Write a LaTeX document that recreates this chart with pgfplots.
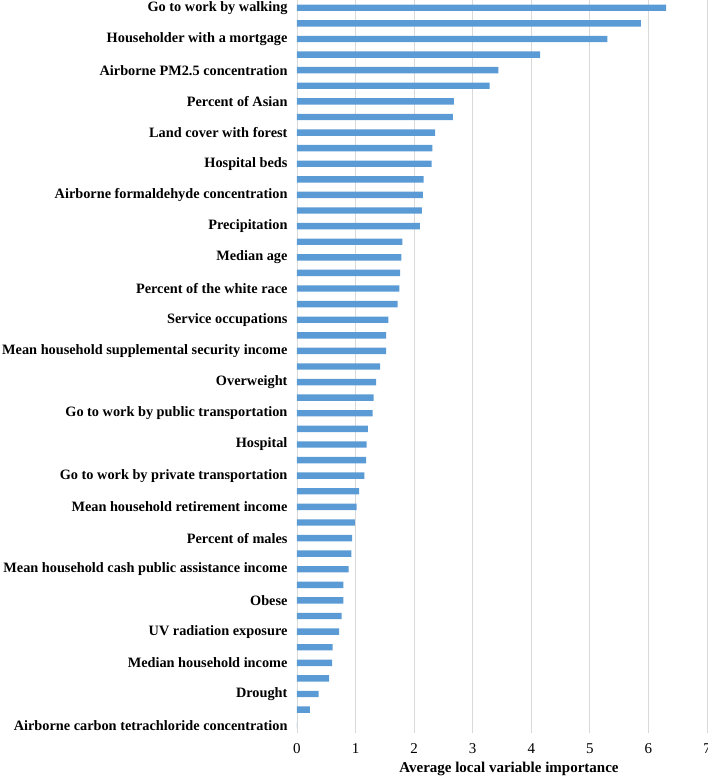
\documentclass[border=0pt]{standalone}
\usepackage{pgfplots}
\pgfplotsset{compat=1.18}
\usepackage{pgfplotstable}
\usepackage{fontspec}
\setmainfont{Liberation Serif}
\definecolor{barblue}{HTML}{5B9BD5}
\definecolor{gridgray}{HTML}{D9D9D9}
\pgfplotstableread{
idx val
0 6.30
1 5.87
2 5.30
3 4.15
4 3.44
5 3.29
6 2.68
7 2.66
8 2.36
9 2.31
10 2.30
11 2.16
12 2.15
13 2.13
14 2.10
15 1.80
16 1.78
17 1.76
18 1.75
19 1.72
20 1.56
21 1.52
22 1.52
23 1.42
24 1.35
25 1.31
26 1.29
27 1.21
28 1.19
29 1.18
30 1.15
31 1.06
32 1.02
33 0.99
34 0.94
35 0.93
36 0.88
37 0.79
38 0.79
39 0.76
40 0.72
41 0.61
42 0.60
43 0.55
44 0.37
45 0.22
46 0.00
}\datatable
\begin{document}
\begin{tikzpicture}
\useasboundingbox (-297pt,-45pt) rectangle (411pt,733pt);
\begin{axis}[
  at={(0,0)}, anchor=south west,
  scale only axis, width=410pt, height=733pt,
  xbar, bar width=6.4pt,
  xmin=0, xmax=7, ymin=-0.5, ymax=46.5, y dir=reverse,
  xtick={0,1,...,7}, ytick={0,2,...,46},
  yticklabels={
    Go to work by walking,
    Householder with a mortgage,
    Airborne PM2.5 concentration,
    Percent of Asian,
    Land cover with forest,
    Hospital beds,
    Airborne formaldehyde concentration,
    Precipitation,
    Median age,
    Percent of the white race,
    Service occupations,
    Mean household supplemental security income\hspace{4pt},
    Overweight,
    Go to work by public transportation,
    Hospital,
    Go to work by private transportation,
    Mean household retirement income\hspace{4pt},
    Percent of males,
    Mean household cash public assistance income\hspace{4pt},
    Obese,
    UV radiation exposure,
    Median household income\hspace{4pt},
    Drought,
    Airborne carbon tetrachloride concentration},
  yticklabel style={font=\fontsize{14.3}{16}\selectfont\bfseries, xshift=-6pt},
  xticklabel style={font=\fontsize{15}{17}\selectfont, yshift=-7pt},
  /pgf/number format/assume math mode=true,
  axis line style={draw=none},
  major tick length=0pt,
  xmajorgrids, grid style={gridgray, line width=0.8pt},
  xlabel={\bfseries Average local variable importance},
  xlabel style={font=\fontsize{15}{17}\selectfont, yshift=-2pt, xshift=7pt},
  clip=false,
]
\addplot[draw=none, fill=barblue] table[x=val, y=idx] {\datatable};
\end{axis}
\end{tikzpicture}
\end{document}
